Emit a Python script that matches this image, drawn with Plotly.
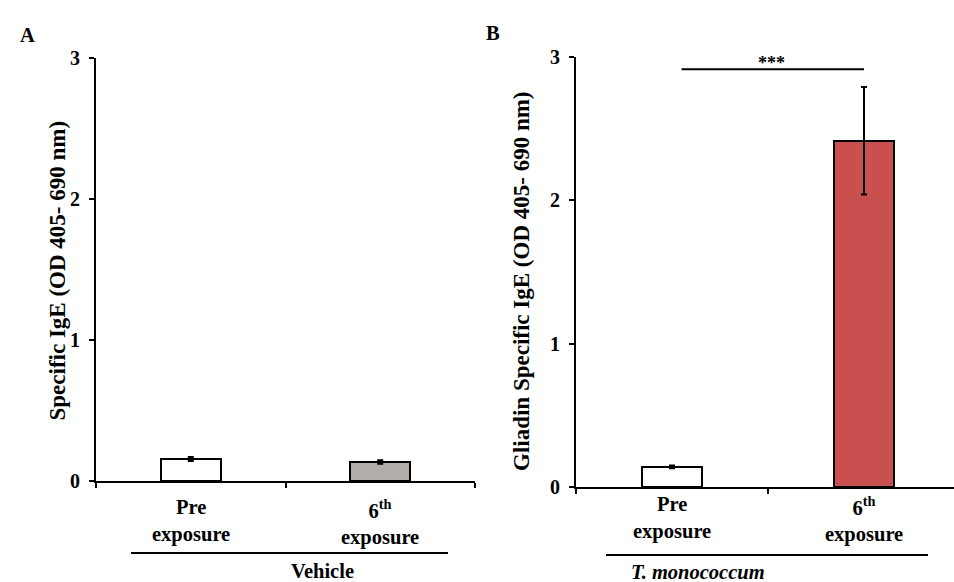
import plotly.graph_objects as go

# ---- data ----
categories = ["Pre<br>exposure", "6<sup>th</sup><br>exposure"]
cat_pos = [0.5, 1.5]
vehicle_vals = [0.156, 0.135]
vehicle_err = [0.015, 0.012]
vehicle_colors = ["#ffffff", "#b1adab"]
mono_vals = [0.14, 2.415]
mono_err = [0.01, 0.375]
mono_colors = ["#ffffff", "#c85150"]
y_ticks = [0, 1, 2, 3]
group_labels = ["Vehicle", "<i>T. monococcum</i>"]
sig_label = "***"

W, H = 954, 582
FONT = "Liberation Serif, Times New Roman, serif"

def fx(px):
    return px / W

def fy(py):
    return 1 - py / H

fig = go.Figure()

fig.add_trace(go.Bar(
    x=cat_pos, y=vehicle_vals, width=0.316,
    marker=dict(color=vehicle_colors, line=dict(color="black", width=2)),
    error_y=dict(type="data", array=vehicle_err, color="black", thickness=2, width=3),
    xaxis="x", yaxis="y", showlegend=False))

fig.add_trace(go.Bar(
    x=cat_pos, y=mono_vals, width=0.31,
    marker=dict(color=mono_colors, line=dict(color="black", width=2)),
    error_y=dict(type="data", array=mono_err, color="black", thickness=2, width=3),
    xaxis="x2", yaxis="y2", showlegend=False))

tickfont = dict(family=FONT, size=20, color="black", weight="bold")
common_x = dict(showgrid=False, zeroline=False, showline=True, linecolor="black", linewidth=2,
                tickvals=[0, 1, 2], ticktext=["", "", ""], ticks="outside", ticklen=5,
                tickwidth=2, tickcolor="black", fixedrange=True, automargin=False)
common_y = dict(showgrid=False, zeroline=False, showline=True, linecolor="black", linewidth=2,
                tickvals=y_ticks, ticks="outside", ticklen=5, tickwidth=2, tickcolor="black",
                tickfont=tickfont, range=[0, 3], automargin=False, ticklabelstandoff=5)

fig.update_layout(
    width=W, height=H, margin=dict(l=0, r=0, t=0, b=0, autoexpand=False),
    paper_bgcolor="white", plot_bgcolor="white",
    font=dict(family=FONT, color="black"),
    xaxis=dict(domain=[fx(96), fx(475)], range=[0, 2], anchor="y", **common_x),
    yaxis=dict(domain=[fy(481), fy(58)], anchor="x", **common_y),
    xaxis2=dict(domain=[fx(576), 1.0], range=[0, 378 / 192], anchor="y2", **common_x),
    yaxis2=dict(domain=[fy(487), fy(57)], anchor="x2", **common_y),
    bargap=0,
)

ann = []
labfont = dict(family=FONT, size=20.5, color="black")
titlefont = dict(family=FONT, size=23, color="black")
# category labels
for xa, ya_top in (("x", 494), ("x2", 491)):
    for p, c in zip(cat_pos, categories):
        ann.append(dict(x=p, xref=xa, y=fy(ya_top), yref="paper", text="<b>" + c + "</b>",
                        showarrow=False, yanchor="top", xanchor="center", font=labfont))
# group labels
ann.append(dict(x=fx(289), y=fy(571), xref="paper", yref="paper", text="<b>" + group_labels[0] + "</b>",
                showarrow=False, font=labfont, yanchor="middle"))
ann.append(dict(x=fx(767), y=fy(572), xref="paper", yref="paper", text="<b>" + group_labels[1] + "</b>",
                showarrow=False, font=labfont, yanchor="middle"))
# y titles
ann.append(dict(x=fx(42), y=fy(271), xref="paper", yref="paper",
                text="<b>Specific IgE (OD 405- 690 nm)</b>", textangle=-90,
                showarrow=False, font=titlefont))
ann.append(dict(x=fx(521), y=fy(281), xref="paper", yref="paper",
                text="<b>Gliadin Specific IgE (OD 405- 690 nm)</b>", textangle=-90,
                showarrow=False, font=titlefont))
# panel letters
ann.append(dict(x=fx(18), y=fy(22), xref="paper", yref="paper", text="<b>A</b>",
                showarrow=False, font=labfont))
ann.append(dict(x=fx(493), y=fy(20), xref="paper", yref="paper", text="<b>B</b>",
                showarrow=False, font=labfont))
# significance
ann.append(dict(x=1.02, xref="x2", y=2.96, yref="y2", text="<b>" + sig_label + "</b>",
                showarrow=False, yanchor="middle", font=dict(family=FONT, size=18, color="black")))

shapes = [
    dict(type="line", xref="x2", yref="y2", x0=0.55, x1=1.5, y0=2.915, y1=2.915,
         line=dict(color="black", width=2)),
    dict(type="line", xref="paper", yref="paper", x0=fx(131), x1=fx(448), y0=fy(553), y1=fy(553),
         line=dict(color="black", width=2)),
    dict(type="line", xref="paper", yref="paper", x0=fx(606), x1=fx(928), y0=fy(555), y1=fy(555),
         line=dict(color="black", width=2)),
]

fig.update_layout(annotations=ann, shapes=shapes)
fig.write_html("out.html")
